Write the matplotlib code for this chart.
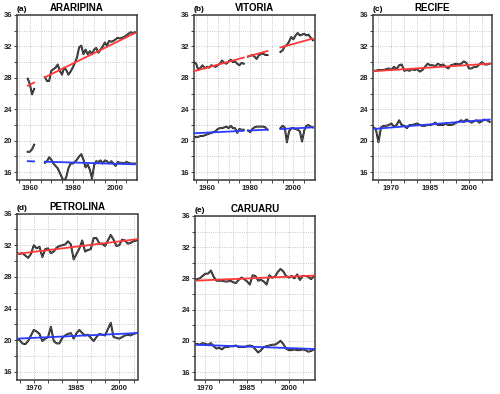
#Recife area stations: annual Tmax / Tmin with trends
import numpy as np
import matplotlib.pyplot as plt

nan = np.nan

# (a) ARARIPINA
years_a = np.arange(1959, 2010)
tmax_a = [27.9, 27.2, 25.9, 26.6, nan, nan, nan, nan,
          28.1, 27.6, 27.6, 28.9, 29.1, 29.3, 29.7, 28.9, 28.4, 29.3, 29.0, 28.4,
          28.8, 29.3, 29.9, 30.6, 31.9, 32.1, 31.0, 31.6, 31.0, 31.4, 31.0, 31.6,
          31.8, 31.2, 31.6, 32.0, 32.5, 32.1, 32.7, 32.6, 32.7, 32.9, 33.1, 33.0,
          33.1, 33.2, 33.4, 33.6, 33.8, 33.7, 33.8]
tmin_a = [18.6, 18.6, 18.9, 19.5, nan, nan, nan, nan,
          17.2, 17.4, 17.9, 17.6, 17.1, 16.8, 16.5, 15.9, 15.3, 14.8, 15.4, 16.5,
          17.1, 17.1, 17.3, 17.6, 18.0, 18.3, 17.6, 16.6, 17.0, 16.3, 15.2, 16.9,
          17.4, 17.3, 17.5, 17.1, 17.5, 17.4, 17.1, 17.4, 17.1, 16.8, 17.3, 17.2,
          17.2, 17.1, 17.3, 17.2, 17.1, 17.1, 17.1]

# (b) VITORIA
years_b = np.arange(1954, 2010)
tmax_b = [30.0, 29.8, 29.0, 29.3, 29.6, 29.2, 29.4, 29.3, 29.6, 29.5,
          29.4, 29.6, 29.8, 30.2, 29.9, 29.8, 30.1, 30.3, 30.0, 30.1,
          29.8, 29.6, 29.9, 29.8, nan,
          30.7, 30.8, 30.9, 30.7, 30.4, 30.9, 31.0, 31.1, 30.9, 30.9,
          nan, nan, nan, nan, nan,
          31.3, 31.5, 32.0, 32.2, 32.6, 33.2, 32.9, 33.4, 33.7, 33.4,
          33.5, 33.6, 33.4, 33.5, 33.1, 32.8]
tmin_b = [20.4, 20.5, 20.5, 20.6, 20.6, 20.7, 20.8, 20.9, 21.0, 21.1,
          21.2, 21.5, 21.6, 21.6, 21.7, 21.8, 21.6, 21.9, 21.6, 21.6,
          21.0, 21.5, 21.4, 21.4, nan,
          21.3, 21.1, 21.5, 21.7, 21.8, 21.8, 21.8, 21.8, 21.7, 21.4,
          nan, nan, nan, nan, nan,
          21.6, 21.9, 21.7, 19.8, 21.2, 21.6, 21.6, 21.5, 21.4, 21.2,
          19.9, 21.3, 21.9, 22.0, 21.8, 21.7]

# (c) RECIFE
years_c = np.arange(1963, 2009)
tmax_c = [28.9, 28.9, 29.0, 29.0, 29.0, 29.1, 29.2, 29.0, 29.4, 29.1,
          29.6, 29.7, 28.9, 29.0, 28.9, 29.1, 29.0, 29.1, 28.8, 29.0,
          29.4, 29.8, 29.6, 29.6, 29.5, 29.8, 29.6, 29.7, 29.4, 29.2,
          29.6, 29.7, 29.8, 29.7, 29.8, 30.1, 29.9, 29.2, 29.2, 29.4,
          29.4, 29.7, 30.0, 29.7, 29.7, 29.8]
tmin_c = [21.7, 21.5, 19.8, 21.7, 21.9, 21.9, 22.0, 22.2, 21.8, 22.0,
          22.6, 22.0, 21.9, 21.6, 22.0, 22.0, 22.1, 22.2, 22.0, 21.9,
          21.9, 22.0, 22.0, 22.1, 22.3, 22.0, 22.0, 22.0, 22.2, 22.0,
          22.0, 22.1, 22.3, 22.4, 22.6, 22.4, 22.7, 22.5, 22.3, 22.5,
          22.6, 22.3, 22.5, 22.7, 22.6, 22.4]

# (d) PETROLINA
years_d = np.arange(1964, 2007)
tmax_d = [31.0, 30.9, 31.0, 30.7, 30.4, 30.9, 32.0, 31.6, 31.8, 30.5,
          31.5, 31.6, 31.0, 31.2, 31.7, 31.9, 32.0, 32.1, 32.5, 32.1,
          30.2, 30.9, 31.6, 32.6, 31.2, 31.4, 31.5, 32.9, 32.9, 32.2,
          32.2, 31.9, 32.6, 33.3, 32.7, 31.9, 32.0, 32.7, 32.6, 32.2,
          32.3, 32.5, 32.6]
tmin_d = [20.2, 20.0, 19.6, 19.5, 19.9, 20.6, 21.3, 21.1, 20.8, 19.9,
          20.2, 20.4, 21.7, 19.9, 19.6, 19.6, 20.3, 20.6, 20.8, 20.9,
          20.2, 20.9, 21.3, 20.9, 20.6, 20.7, 20.3, 19.9, 20.4, 20.8,
          20.7, 20.6, 21.4, 22.2, 20.4, 20.3, 20.2, 20.4, 20.6, 20.7,
          20.6, 20.8, 20.9]

# (e) CARUARU
years_e = np.arange(1966, 2010)
tmax_e = [27.7, 27.9, 28.0, 28.3, 28.6, 28.6, 29.0, 28.2, 27.7, 27.7,
          27.7, 27.6, 27.6, 27.7, 27.5, 27.4, 27.8, 28.1, 27.9, 27.6,
          27.2, 28.4, 28.3, 27.7, 27.8, 27.6, 27.2, 28.4, 28.1, 28.2,
          28.8, 29.2, 28.9, 28.3, 28.1, 28.3, 28.0, 28.5, 27.8, 28.3,
          28.3, 28.2, 27.9, 28.3]
tmin_e = [19.5, 19.6, 19.5, 19.7, 19.6, 19.5, 19.7, 19.3, 19.0, 19.1,
          18.9, 19.2, 19.2, 19.3, 19.3, 19.4, 19.2, 19.2, 19.2, 19.3,
          19.4, 19.3, 18.9, 18.5, 18.8, 19.2, 19.3, 19.4, 19.5, 19.5,
          19.7, 20.0, 19.6, 19.0, 18.8, 18.8, 18.9, 18.8, 18.8, 18.9,
          18.8, 18.6, 18.7, 18.9]

# trend lines: (start year, end year, start value, end value)
red_a, blue_a = (1959, 2009, 27.0, 33.7), (1959, 2009, 17.4, 17.0)
red_b, blue_b = (1954, 2009, 28.85, 33.0), (1954, 2009, 20.95, 21.7)
red_c, blue_c = (1963, 2008, 28.85, 29.8), (1963, 2008, 21.5, 22.7)
red_d, blue_d = (1964, 2006, 30.9, 32.75), (1964, 2006, 20.2, 20.9)
red_e, blue_e = (1966, 2009, 27.7, 28.35), (1966, 2009, 19.5, 18.95)

stations = ['ARARIPINA', 'VITORIA', 'RECIFE', 'PETROLINA', 'CARUARU']
letters = ['(a)', '(b)', '(c)', '(d)', '(e)']
xticks = [[1960, 1980, 2000], [1960, 1980, 2000], [1970, 1985, 2000],
          [1970, 1985, 2000], [1970, 1985, 2000]]
xlims = [(1954, 2010), (1954, 2010), (1962.9, 2008.9), (1964.1, 2006.4), (1966.3, 2009.4)]
boxes = [[0.034, 0.543, 0.240, 0.419],
         [0.388, 0.543, 0.242, 0.419],
         [0.746, 0.543, 0.238, 0.419],
         [0.034, 0.036, 0.241, 0.422],
         [0.390, 0.036, 0.240, 0.416]]

series = [(years_a, tmax_a, tmin_a, red_a, blue_a),
          (years_b, tmax_b, tmin_b, red_b, blue_b),
          (years_c, tmax_c, tmin_c, red_c, blue_c),
          (years_d, tmax_d, tmin_d, red_d, blue_d),
          (years_e, tmax_e, tmin_e, red_e, blue_e)]

plt.rcParams['font.family'] = ['Liberation Sans', 'DejaVu Sans']
fig = plt.figure(figsize=(5, 3.94), dpi=100)


def trend(yrs, vals, tr):
    y0, y1, v0, v1 = tr
    t = v0 + (v1 - v0) * (yrs - y0) / (y1 - y0)
    t = t.astype(float)
    t[np.isnan(np.asarray(vals, dtype=float))] = nan
    return t


for i in range(5):
    yrs, tx, tn, rd, bl = series[i]
    ax = fig.add_axes(boxes[i])
    for v in (tx, tn):
        ax.plot(yrs, v, color='#111111', lw=1.4, zorder=3)
        ax.plot(yrs, v, color='#9a9a9a', lw=0.3, zorder=3)
    ax.plot(yrs, trend(yrs, tx, rd), color='#ff3838', lw=1.3, zorder=4)
    ax.plot(yrs, trend(yrs, tn, bl), color='#2a3cff', lw=1.3, zorder=4)

    # ticks first, limits after (set_xticks would widen the view)
    ax.set_xticks(xticks[i])
    ax.set_xticks(np.arange(1955, 2010, 5), minor=True)
    ax.set_yticks([16, 20, 24, 28, 32, 36])
    ax.set_yticks(np.arange(16, 37, 2), minor=True)
    ax.set_xlim(xlims[i])
    ax.set_ylim(15, 36)
    ax.grid(True, which='both', color='#b8b8b8', ls=':', lw=0.6)
    ax.tick_params(which='both', length=2, width=0.6, labelsize=5.5, pad=1.5, colors='#222222')
    for lab in ax.get_xticklabels() + ax.get_yticklabels():
        lab.set_fontweight('bold')
    for s in ax.spines.values():
        s.set_color('#3a3a3a')
        s.set_linewidth(1.1)
    ax.text(0.0, 1.012, letters[i], transform=ax.transAxes, ha='left', va='bottom',
            fontsize=6, fontweight='bold')
    ax.text(0.5, 1.012, stations[i], transform=ax.transAxes, ha='center', va='bottom',
            fontsize=7, fontweight='bold')

fig.savefig('out.png', dpi=100)
